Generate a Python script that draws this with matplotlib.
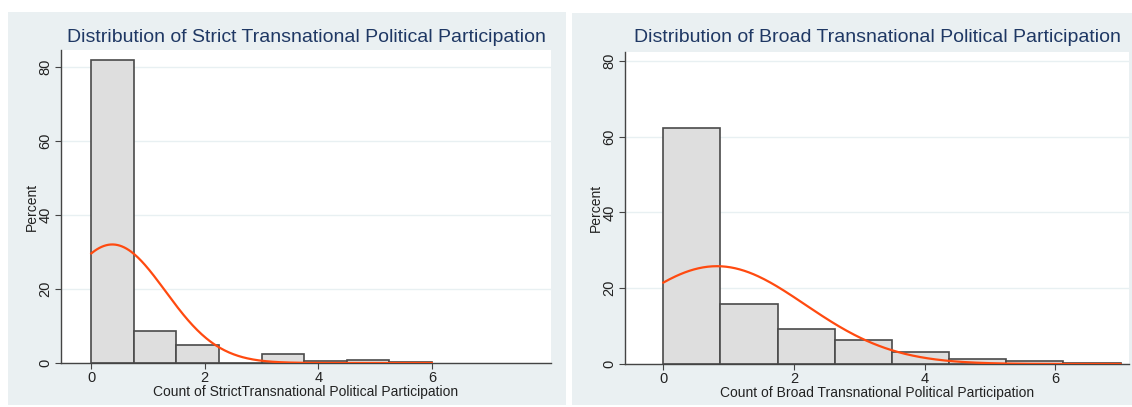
import matplotlib.pyplot as plt
import numpy as np
from matplotlib.patches import Rectangle

plt.rcParams['font.family'] = ['Liberation Sans', 'DejaVu Sans']

# histogram values (percent per bin)
strict_edges = [0, 0.75, 1.5, 2.25, 3.0, 3.75, 4.5, 5.25, 6.0]
strict_pct = [81.7, 8.6, 4.8, 0.0, 2.5, 0.5, 0.75, 0.3]
strict_mean, strict_sd = 0.37, 0.935

broad_edges = [0, 0.875, 1.75, 2.625, 3.5, 4.375, 5.25, 6.125, 7.0]
broad_pct = [62.3, 15.7, 9.3, 6.25, 3.2, 1.4, 0.7, 0.2]
broad_mean, broad_sd = 0.82, 1.353

yticks = [0, 20, 40, 60, 80]
xticks = [0, 2, 4, 6]

panels = [
    dict(edges=strict_edges, pct=strict_pct, mu=strict_mean, sd=strict_sd,
         title='Distribution of Strict Transnational Political Participation',
         xlabel='Count of StrictTransnational Political Participation',
         pos=[61/1132, 1-363/407, 490/1132, 313/407], xlim=(-0.534, 8.10), ylim=(0, 84.5),
         bg=(8, 12, 566, 405)),
    dict(edges=broad_edges, pct=broad_pct, mu=broad_mean, sd=broad_sd,
         title='Distribution of Broad Transnational Political Participation',
         xlabel='Count of Broad Transnational Political Participation',
         pos=[625/1132, 1-364/407, 504/1132, 312/407], xlim=(-0.587, 7.13), ylim=(0, 82.3),
         bg=(572, 13, 1132, 405)),
]

fig = plt.figure(figsize=(11.32, 4.07), dpi=100)
fig.patch.set_facecolor('white')

for p in panels:
    x0, y0, x1, y1 = p['bg']
    fig.patches.append(Rectangle((x0/1132, 1-y1/407), (x1-x0)/1132, (y1-y0)/407,
                                 transform=fig.transFigure, facecolor='#eaf0f2',
                                 edgecolor='none', zorder=-5))

    ax = fig.add_axes(p['pos'])
    ax.set_facecolor('white')
    edges = np.array(p['edges'])
    bw = edges[1] - edges[0]
    ax.bar(edges[:-1], p['pct'], width=bw, align='edge', color='#dedede',
           edgecolor='#4a4a4a', linewidth=1.2, zorder=2)

    # fitted normal density, scaled to percent per bin
    xs = np.linspace(edges[0], edges[-1], 300)
    ys = 100 * bw / (p['sd'] * np.sqrt(2*np.pi)) * np.exp(-(xs - p['mu'])**2 / (2*p['sd']**2))
    ax.plot(xs, ys, color='#ff4a10', linewidth=1.6, zorder=3)

    ax.set_xlim(*p['xlim'])
    ax.set_ylim(*p['ylim'])
    ax.set_xticks(xticks)
    ax.set_yticks(yticks)
    ax.set_yticklabels([str(t) for t in yticks], rotation=90, va='center')
    ax.grid(axis='y', color='#e8f0f2', linewidth=1.0, zorder=0)
    ax.set_axisbelow(True)
    for s in ['top', 'right']:
        ax.spines[s].set_visible(False)
    for s in ['left', 'bottom']:
        ax.spines[s].set_color('#444444')
        ax.spines[s].set_linewidth(1.0)
    ax.tick_params(length=4, color='#444444', labelsize=10.5, labelcolor='#222222', pad=2)
    ax.set_xlabel(p['xlabel'], fontsize=10, color='#222222', labelpad=0)
    ax.set_ylabel('Percent', fontsize=10, color='#222222', labelpad=0)

    cx = p['pos'][0] + p['pos'][2] / 2
    fig.text(cx, 1-37/407, p['title'], ha='center', va='center', fontsize=14, color='#1f3864')

fig.savefig('out.png', dpi=100)
